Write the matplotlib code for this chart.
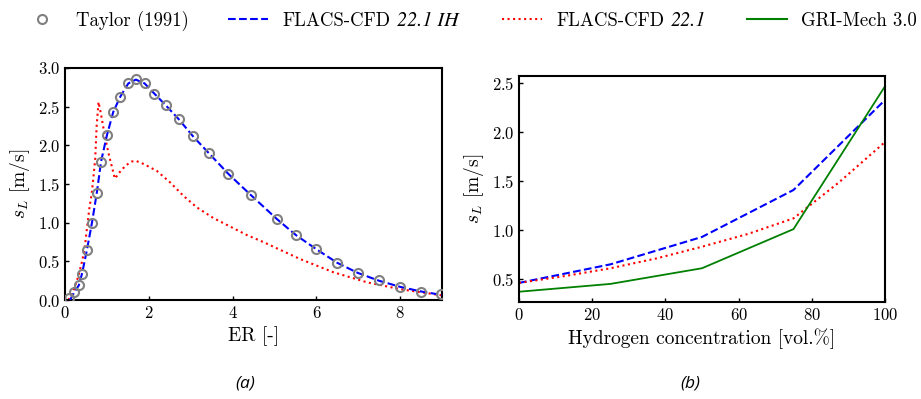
import matplotlib
matplotlib.use('Agg')
import matplotlib.pyplot as plt
from matplotlib.lines import Line2D
from matplotlib.transforms import IdentityTransform

plt.rcParams['font.family'] = 'cmr10'
plt.rcParams['mathtext.fontset'] = 'cm'
plt.rcParams['axes.formatter.use_mathtext'] = True
plt.rcParams['axes.unicode_minus'] = False

##############################################
# data

# (a) laminar burning velocity vs equivalence ratio
er_taylor = [0.10, 0.22, 0.33, 0.41, 0.52, 0.64, 0.76, 0.86, 1.00, 1.15,
             1.32, 1.51, 1.69, 1.90, 2.13, 2.40, 2.71, 3.05, 3.43, 3.90,
             4.43, 5.05, 5.51, 5.99, 6.50, 6.99, 7.49, 8.00, 8.50, 8.97]
sl_taylor = [0.02, 0.10, 0.19, 0.33, 0.65, 0.99, 1.39, 1.79, 2.13, 2.43,
             2.63, 2.80, 2.86, 2.80, 2.67, 2.52, 2.34, 2.12, 1.90, 1.63,
             1.36, 1.05, 0.84, 0.66, 0.48, 0.35, 0.26, 0.17, 0.11, 0.075]

er_ih = [0.12, 0.22, 0.33, 0.41, 0.52, 0.64, 0.76, 0.86, 1.00, 1.15,
         1.32, 1.51, 1.69, 1.90, 2.13, 2.40, 2.71, 3.05, 3.43, 3.90,
         4.43, 5.05, 5.51, 5.99, 6.50, 6.99, 7.49, 8.00, 8.50, 9.00]
sl_ih = [0.00, 0.10, 0.19, 0.35, 0.64, 0.99, 1.39, 1.79, 2.13, 2.43,
         2.63, 2.80, 2.85, 2.80, 2.67, 2.52, 2.34, 2.12, 1.90, 1.63,
         1.36, 1.05, 0.84, 0.66, 0.48, 0.35, 0.25, 0.17, 0.11, 0.065]

er_221 = [0.08, 0.20, 0.32, 0.42, 0.48, 0.53, 0.58, 0.64, 0.68, 0.72,
          0.755, 0.80, 0.86, 0.95, 1.05, 1.19, 1.30, 1.45, 1.59, 1.69,
          1.87, 2.19, 2.51, 2.82, 3.14, 3.54, 3.94, 4.34, 4.73, 5.05,
          5.61, 6.40, 7.20, 8.00, 9.00]
sl_221 = [0.00, 0.12, 0.31, 0.53, 0.72, 0.96, 1.18, 1.39, 1.60, 1.82,
          2.25, 2.56, 2.40, 2.12, 1.87, 1.57, 1.65, 1.74, 1.79, 1.80,
          1.76, 1.67, 1.52, 1.35, 1.20, 1.06, 0.95, 0.84, 0.75, 0.67,
          0.53, 0.36, 0.23, 0.14, 0.06]

# (b) laminar burning velocity vs hydrogen concentration
h2_conc = [0, 25, 50, 75, 100]
sl_h2_ih = [0.46, 0.65, 0.93, 1.41, 2.33]
sl_h2_gri = [0.37, 0.45, 0.61, 1.01, 2.47]

h2_conc_221 = [0, 12.5, 25, 37.5, 50, 62.5, 75, 87.5, 100]
sl_h2_221 = [0.46, 0.53, 0.61, 0.71, 0.83, 0.96, 1.12, 1.49, 1.90]

# legend labels: roman part + italic version tag
leg_roman = ['Taylor (1991)', 'FLACS-CFD', 'FLACS-CFD', 'GRI-Mech 3.0']
leg_italic = ['', '22.1 IH', '22.1', '']

##############################################
# figure

fig = plt.figure(figsize=(9.21, 3.99), dpi=100)
ax1 = fig.add_axes([0.0706, 0.2481, 0.4094, 0.5815])
ax2 = fig.add_axes([0.5635, 0.2431, 0.3974, 0.5664])

# panel (a)
ax1.plot(er_ih, sl_ih, color='blue', linestyle='--', linewidth=1.5, zorder=3)
ax1.plot(er_221, sl_221, color='red', linestyle=':', linewidth=1.5, zorder=2)
ax1.plot(er_taylor, sl_taylor, linestyle='none', marker='o', markersize=6.5,
         markerfacecolor='none', markeredgecolor='grey', markeredgewidth=1.5, zorder=4)
ax1.set_xlim(0, 9)
ax1.set_ylim(0, 3)
ax1.set_xticks([0, 2, 4, 6, 8])
ax1.set_yticks([0.0, 0.5, 1.0, 1.5, 2.0, 2.5, 3.0])
ax1.set_xlabel('ER [-]', fontsize=14)
ax1.set_ylabel(r'$s_L$ [m/s]', fontsize=14)

# panel (b)
ax2.plot(h2_conc, sl_h2_ih, color='blue', linestyle='--', linewidth=1.5)
ax2.plot(h2_conc_221, sl_h2_221, color='red', linestyle=':', linewidth=1.5)
ax2.plot(h2_conc, sl_h2_gri, color='green', linestyle='-', linewidth=1.3)
ax2.set_xlim(0, 100)
ax2.set_ylim(0.265, 2.575)
ax2.set_xticks([0, 20, 40, 60, 80, 100])
ax2.set_yticks([0.5, 1.0, 1.5, 2.0, 2.5])
ax2.set_xlabel('Hydrogen concentration [vol.%]', fontsize=14)
ax2.set_ylabel(r'$s_L$ [m/s]', fontsize=14)

for ax in (ax1, ax2):
    ax.tick_params(direction='in', labelsize=12, length=3, width=1)
    for sp in ax.spines.values():
        sp.set_linewidth(1.5)

# legend on top, one small legend per entry so each sits where the reference has it
handles = [
    Line2D([], [], linestyle='none', marker='o', markersize=6.5, markerfacecolor='none',
           markeredgecolor='grey', markeredgewidth=1.5),
    Line2D([], [], color='blue', linestyle='--', linewidth=1.5),
    Line2D([], [], color='red', linestyle=':', linewidth=1.5),
    Line2D([], [], color='green', linestyle='-', linewidth=1.5),
]
handle_x = [22, 228, 502, 747]   # left edge of each handle, px
legs = []
for h, l, xp in zip(handles, leg_roman, handle_x):
    leg = fig.legend([h], [l], loc='center left', bbox_to_anchor=(xp / 921, 1 - 21 / 399),
                     frameon=False, fontsize=13.5, handlelength=2.13, handletextpad=0.75,
                     borderpad=0, borderaxespad=0)
    legs.append(leg)

# italic version tags appended right after the roman part (mathtext can't italicise digits)
fig.canvas.draw()
renderer = fig.canvas.get_renderer()
for leg, it_txt in zip(legs, leg_italic):
    if not it_txt:
        continue
    t = leg.get_texts()[0]
    bb = t.get_window_extent(renderer)
    x0, y0 = t.get_transform().transform(t.get_position())
    fig.text(bb.x1 + 7, y0, it_txt, fontsize=14.5, family='STIXGeneral', style='italic',
             va='baseline', ha='left', transform=IdentityTransform())

# captions
fig.text(245 / 921, 1 - 383 / 399, '(a)', fontsize=12.5, style='italic',
         family='Open Sans', ha='center', va='center')
fig.text(690 / 921, 1 - 383 / 399, '(b)', fontsize=12.5, style='italic',
         family='Open Sans', ha='center', va='center')

fig.savefig('out.png', dpi=100)
